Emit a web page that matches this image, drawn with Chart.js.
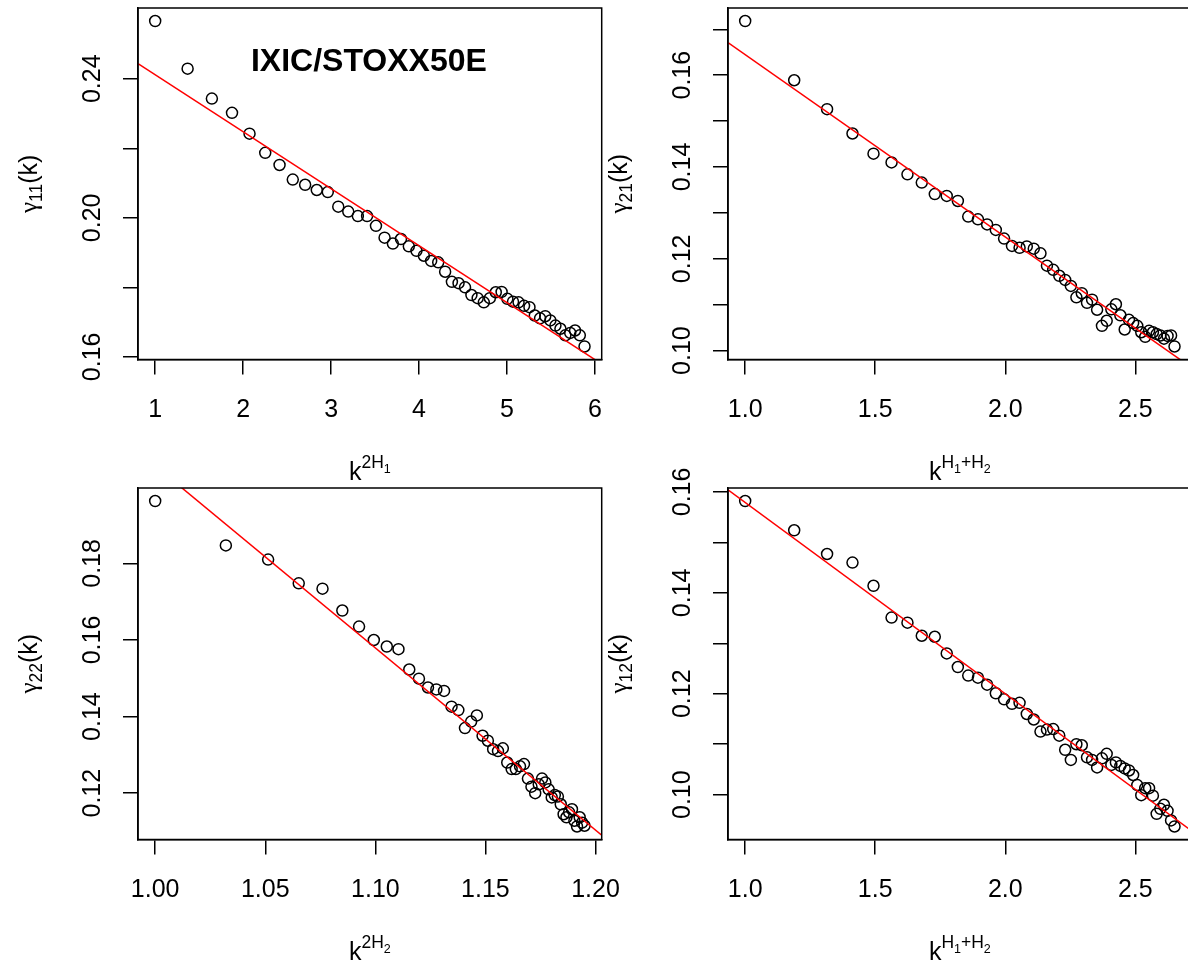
<!DOCTYPE html>
<html>
<head>
<meta charset="utf-8">
<script src="https://cdn.jsdelivr.net/npm/chart.js@4/dist/chart.umd.min.js"></script>
<style>
    html, body { margin: 0; padding: 0; background: #fff; overflow: hidden; }
    body { width: 1188px; height: 970px; position: relative; }
    canvas { position: absolute; left: 0px; top: 0px; }
</style>
</head>
<body>
<canvas id="chart_11" width="1200" height="970"></canvas>
<canvas id="chart_21" width="1200" height="970"></canvas>
<canvas id="chart_22" width="1200" height="970"></canvas>
<canvas id="chart_12" width="1200" height="970"></canvas>
<script>
// x values (k^{2H1}, k^{H1+H2}, k^{2H2}), k = 1..50
const x_2h1 = [1, 1.3688, 1.6447, 1.8736, 2.0729, 2.2513, 2.4141, 2.5645, 2.7051, 2.8373,
    2.9625, 3.0816, 3.1953, 3.3044, 3.4093, 3.5104, 3.6081, 3.7027, 3.7945, 3.8837,
    3.9705, 4.0550, 4.1375, 4.2180, 4.2967, 4.3737, 4.4491, 4.5230, 4.5955, 4.6666,
    4.7364, 4.8050, 4.8725, 4.9388, 5.0041, 5.0684, 5.1316, 5.1940, 5.2555, 5.3161,
    5.3759, 5.4349, 5.4931, 5.5507, 5.6075, 5.6636, 5.7190, 5.7738, 5.8280, 5.8815];
const x_h1h2 = [1, 1.1885, 1.3149, 1.4126, 1.4934, 1.5628, 1.6240, 1.6790, 1.7290, 1.7750,
    1.8177, 1.8576, 1.8949, 1.9302, 1.9637, 1.9955, 2.0259, 2.0550, 2.0828, 2.1096,
    2.1354, 2.1603, 2.1844, 2.2077, 2.2303, 2.2522, 2.2735, 2.2942, 2.3143, 2.3339,
    2.3531, 2.3718, 2.3900, 2.4079, 2.4254, 2.4425, 2.4592, 2.4756, 2.4917, 2.5075,
    2.5229, 2.5381, 2.5530, 2.5677, 2.5821, 2.5963, 2.6103, 2.6240, 2.6375, 2.6508];
const x_2h2 = [1, 1.0321, 1.0513, 1.0652, 1.0760, 1.0850, 1.0926, 1.0993, 1.1052, 1.1105,
    1.1154, 1.1198, 1.1239, 1.1277, 1.1312, 1.1346, 1.1377, 1.1407, 1.1435, 1.1461,
    1.1487, 1.1511, 1.1535, 1.1557, 1.1579, 1.1599, 1.1619, 1.1638, 1.1657, 1.1675,
    1.1693, 1.1709, 1.1726, 1.1742, 1.1757, 1.1772, 1.1787, 1.1801, 1.1815, 1.1829,
    1.1842, 1.1855, 1.1868, 1.1880, 1.1893, 1.1904, 1.1916, 1.1928, 1.1939, 1.1950];

// gamma values
const gamma_11 = [0.2566, 0.2429, 0.2343, 0.2302, 0.2242, 0.2187, 0.2152, 0.2110, 0.2095, 0.2080,
    0.2074, 0.2032, 0.2018, 0.2005, 0.2005, 0.1977, 0.1943, 0.1926, 0.1939, 0.1918,
    0.1905, 0.1891, 0.1876, 0.1872, 0.1845, 0.1816, 0.1812, 0.1800, 0.1778, 0.1769,
    0.1757, 0.1769, 0.1786, 0.1787, 0.1767, 0.1759, 0.1757, 0.1747, 0.1743, 0.1719,
    0.1711, 0.1717, 0.1705, 0.1690, 0.1681, 0.1662, 0.1669, 0.1676, 0.1662, 0.1630];
const gamma_21 = [0.1718, 0.1589, 0.1526, 0.1473, 0.1429, 0.1410, 0.1384, 0.1366, 0.1341, 0.1337,
    0.1326, 0.1292, 0.1286, 0.1275, 0.1263, 0.1244, 0.1228, 0.1224, 0.1227, 0.1222,
    0.1212, 0.1185, 0.1176, 0.1163, 0.1154, 0.1141, 0.1116, 0.1125, 0.1104, 0.1111,
    0.1089, 0.1054, 0.1065, 0.1090, 0.1101, 0.1077, 0.1046, 0.1067, 0.1060, 0.1054,
    0.1040, 0.1030, 0.1043, 0.1040, 0.1036, 0.1033, 0.1026, 0.1032, 0.1033, 0.1009];
const gamma_22 = [0.1963, 0.1847, 0.1810, 0.1748, 0.1734, 0.1677, 0.1635, 0.1600, 0.1583, 0.1576,
    0.1523, 0.1499, 0.1476, 0.1471, 0.1467, 0.1426, 0.1417, 0.1370, 0.1387, 0.1403,
    0.1350, 0.1337, 0.1315, 0.1310, 0.1317, 0.1280, 0.1263, 0.1263, 0.1270, 0.1276,
    0.1238, 0.1217, 0.1200, 0.1223, 0.1238, 0.1228, 0.1210, 0.1189, 0.1195, 0.1191,
    0.1171, 0.1145, 0.1137, 0.1150, 0.1158, 0.1128, 0.1113, 0.1137, 0.1123, 0.1115];
const gamma_12 = [0.1582, 0.1524, 0.1477, 0.1460, 0.1414, 0.1351, 0.1341, 0.1315, 0.1313, 0.1280,
    0.1253, 0.1236, 0.1232, 0.1218, 0.1201, 0.1189, 0.1180, 0.1182, 0.1160, 0.1149,
    0.1125, 0.1129, 0.1130, 0.1117, 0.1089, 0.1069, 0.1100, 0.1098, 0.1074, 0.1069,
    0.1054, 0.1072, 0.1081, 0.1059, 0.1064, 0.1057, 0.1052, 0.1048, 0.1039, 0.1019,
    0.0999, 0.1013, 0.1013, 0.0998, 0.0962, 0.0972, 0.0980, 0.0968, 0.0949, 0.0937];

// fitted lines: [intercept, slope]
const fit_11 = [0.2575, -0.01638];
const fit_21 = [0.2042, -0.03972];
const fit_22 = [0.6811, -0.4756];
const fit_12 = [0.1958, -0.0379];

// axis ticks and the labels R actually printed
const ticks_x_2h1 = [1, 2, 3, 4, 5, 6];
const labels_x_2h1 = ['1', '2', '3', '4', '5', '6'];
const ticks_x_h1h2 = [1.0, 1.5, 2.0, 2.5];
const labels_x_h1h2 = ['1.0', '1.5', '2.0', '2.5'];
const ticks_x_2h2 = [1.00, 1.05, 1.10, 1.15, 1.20];
const labels_x_2h2 = ['1.00', '1.05', '1.10', '1.15', '1.20'];

const ticks_y_11 = [0.16, 0.18, 0.20, 0.22, 0.24];
const labels_y_11 = ['0.16', '', '0.20', '', '0.24'];
const ticks_y_21 = [0.10, 0.11, 0.12, 0.13, 0.14, 0.15, 0.16, 0.17];
const labels_y_21 = ['0.10', '', '0.12', '', '0.14', '', '0.16', ''];
const ticks_y_22 = [0.12, 0.14, 0.16, 0.18];
const labels_y_22 = ['0.12', '0.14', '0.16', '0.18'];
const ticks_y_12 = [0.10, 0.11, 0.12, 0.13, 0.14, 0.15, 0.16];
const labels_y_12 = ['0.10', '', '0.12', '', '0.14', '', '0.16'];

const panel_title = 'IXIC/STOXX50E';

const SANS = '"Liberation Sans", Arial, sans-serif';
const SERIF = '"Liberation Serif", "Times New Roman", serif';
const TICK_SIZE = 25;

// plot box of a panel, relative to the panel's top-left corner
const BOX_LEFT = 138;
const BOX_TOP = 8;
const BOX_RIGHT = 601.7;
const BOX_BOTTOM = 359.5;
const CANVAS_W = 1200;
const CANVAS_H = 970;

// R pads the data range by 4% on each side
function r_range(values) {
    const lo = Math.min(...values);
    const hi = Math.max(...values);
    const pad = (hi - lo) * 0.04;
    return [lo - pad, hi + pad];
}

// draws a run of text pieces (for sub/superscripts), centred on x
function draw_runs(ctx, runs, x, y, rotate) {
    ctx.save();
    ctx.translate(x, y);
    if (rotate) ctx.rotate(-Math.PI / 2);
    ctx.textAlign = 'left';
    ctx.textBaseline = 'alphabetic';
    let total = 0;
    const widths = runs.map(r => {
        ctx.font = r[1] + 'px ' + (r[3] || SANS);
        const w = ctx.measureText(r[0]).width;
        total += w;
        return w;
    });
    let cx = -total / 2;
    runs.forEach((r, i) => {
        ctx.font = r[1] + 'px ' + (r[3] || SANS);
        ctx.fillText(r[0], cx, r[2]);
        cx += widths[i];
    });
    ctx.restore();
}

function r_axes_plugin(spec) {
    return {
        id: 'r_axes',
        afterDraw(chart) {
            const ctx = chart.ctx;
            const area = chart.chartArea;
            const xs = chart.scales.x;
            const ys = chart.scales.y;
            ctx.save();
            ctx.strokeStyle = '#000';
            ctx.lineWidth = 1.5;
            ctx.strokeRect(area.left, area.top, area.right - area.left, area.bottom - area.top);

            ctx.fillStyle = '#000';
            ctx.font = TICK_SIZE + 'px ' + SANS;
            ctx.textAlign = 'center';
            ctx.textBaseline = 'alphabetic';
            spec.x_ticks.forEach((v, i) => {
                if (!spec.x_labels[i]) return;
                ctx.fillText(spec.x_labels[i], xs.getPixelForValue(v), area.bottom + 57);
            });
            spec.y_ticks.forEach((v, i) => {
                if (!spec.y_labels[i]) return;
                ctx.save();
                ctx.translate(area.left - 38, ys.getPixelForValue(v));
                ctx.rotate(-Math.PI / 2);
                ctx.fillText(spec.y_labels[i], 0, 0);
                ctx.restore();
            });

            draw_runs(ctx, spec.x_title, (area.left + area.right) / 2, area.bottom + 120.5, false);
            draw_runs(ctx, spec.y_title, area.left - 101.5, (area.top + area.bottom) / 2, true);

            if (spec.note) {
                ctx.font = 'bold 32px ' + SANS;
                ctx.textAlign = 'center';
                ctx.textBaseline = 'middle';
                ctx.fillText(spec.note.text, xs.getPixelForValue(spec.note.x), ys.getPixelForValue(spec.note.y));
            }
            ctx.restore();
        }
    };
}

// ox, oy: top-left corner of the panel on the page
function make_panel(canvas_id, ox, oy, spec) {
    const x_range = r_range(spec.xs);
    const y_range = r_range(spec.ys);
    const points = spec.xs.map((x, i) => ({x: x, y: spec.ys[i]}));
    const fit_line = x_range.map(x => ({x: x, y: spec.fit[0] + spec.fit[1] * x}));

    const axis_common = {
        type: 'linear',
        grid: {
            display: true,
            drawOnChartArea: false,
            drawTicks: true,
            tickLength: 15,
            color: '#000',
            lineWidth: 1.5
        },
        border: {display: true, color: '#000', width: 1.5},
        ticks: {display: false}
    };

    new Chart(document.getElementById(canvas_id), {
        type: 'scatter',
        data: {
            datasets: [{
                type: 'line',
                data: fit_line,
                borderColor: '#ff0000',
                borderWidth: 1.5,
                pointRadius: 0,
                fill: false,
                clip: 0,
                order: 0
            }, {
                data: points,
                pointStyle: 'circle',
                pointRadius: 5.5,
                pointBorderWidth: 1.5,
                pointBorderColor: '#000',
                pointBackgroundColor: 'rgba(0,0,0,0)',
                showLine: false,
                order: 1
            }]
        },
        options: {
            responsive: false,
            animation: false,
            events: [],
            devicePixelRatio: 1,
            layout: {
                autoPadding: false,
                padding: {top: oy + BOX_TOP, right: CANVAS_W - (ox + BOX_RIGHT), left: ox, bottom: 0}
            },
            plugins: {
                legend: {display: false},
                tooltip: {enabled: false}
            },
            scales: {
                x: Object.assign({}, axis_common, {
                    min: x_range[0],
                    max: x_range[1],
                    afterBuildTicks: (scale) => { scale.ticks = spec.x_ticks.map(v => ({value: v})); },
                    afterFit: (scale) => { scale.height = CANVAS_H - (oy + BOX_BOTTOM); }
                }),
                y: Object.assign({}, axis_common, {
                    min: y_range[0],
                    max: y_range[1],
                    afterBuildTicks: (scale) => { scale.ticks = spec.y_ticks.map(v => ({value: v})); },
                    afterFit: (scale) => { scale.width = BOX_LEFT; }
                })
            }
        },
        plugins: [r_axes_plugin(spec)]
    });
}

make_panel('chart_11', 0, 0, {
    xs: x_2h1, ys: gamma_11, fit: fit_11,
    x_ticks: ticks_x_2h1, x_labels: labels_x_2h1,
    y_ticks: ticks_y_11, y_labels: labels_y_11,
    x_title: [['k', 25, 0], ['2H', 17.5, -12], ['1', 12.5, -7]],
    y_title: [['\u03b3', 25, 0, SERIF], ['11', 17.5, 5], ['(k)', 25, 0]],
    note: {text: panel_title, x: 3.43, y: 0.2449}
});
make_panel('chart_21', 590, 0, {
    xs: x_h1h2, ys: gamma_21, fit: fit_21,
    x_ticks: ticks_x_h1h2, x_labels: labels_x_h1h2,
    y_ticks: ticks_y_21, y_labels: labels_y_21,
    x_title: [['k', 25, 0], ['H', 17.5, -12], ['1', 12.5, -7], ['+H', 17.5, -12], ['2', 12.5, -7]],
    y_title: [['\u03b3', 25, 0, SERIF], ['21', 17.5, 5], ['(k)', 25, 0]]
});
make_panel('chart_22', 0, 480, {
    xs: x_2h2, ys: gamma_22, fit: fit_22,
    x_ticks: ticks_x_2h2, x_labels: labels_x_2h2,
    y_ticks: ticks_y_22, y_labels: labels_y_22,
    x_title: [['k', 25, 0], ['2H', 17.5, -12], ['2', 12.5, -7]],
    y_title: [['\u03b3', 25, 0, SERIF], ['22', 17.5, 5], ['(k)', 25, 0]]
});
make_panel('chart_12', 590, 480, {
    xs: x_h1h2, ys: gamma_12, fit: fit_12,
    x_ticks: ticks_x_h1h2, x_labels: labels_x_h1h2,
    y_ticks: ticks_y_12, y_labels: labels_y_12,
    x_title: [['k', 25, 0], ['H', 17.5, -12], ['1', 12.5, -7], ['+H', 17.5, -12], ['2', 12.5, -7]],
    y_title: [['\u03b3', 25, 0, SERIF], ['12', 17.5, 5], ['(k)', 25, 0]]
});
</script>
</body>
</html>
